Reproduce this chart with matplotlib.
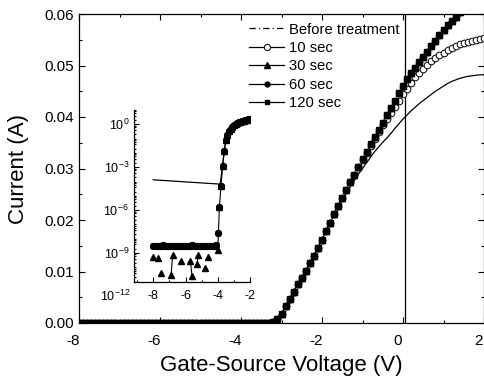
import numpy as np
import matplotlib
matplotlib.use("Agg")
import matplotlib.pyplot as plt
import matplotlib.transforms as mtransforms
from matplotlib.lines import Line2D
from matplotlib.ticker import FixedLocator, MultipleLocator, LogLocator, NullFormatter, LogFormatterSciNotation

plt.rcParams['font.family'] = ['Liberation Sans', 'DejaVu Sans']
plt.rcParams['mathtext.default'] = 'regular'
plt.rcParams['axes.unicode_minus'] = False

# main plot: gate sweep -8 .. 2 V, step 0.1 V
vg = np.round(np.arange(-8.0, 2.01, 0.1), 2)
n_off = 48  # -8.0 .. -3.3 V, no current

rise_treated = [0.0002, 0.0007, 0.0018, 0.0033, 0.0047, 0.0061, 0.0075, 0.0088, 0.0101, 0.0116,
                0.0131, 0.0146, 0.0161, 0.0178, 0.0194, 0.0211, 0.0227, 0.0243, 0.0258, 0.0273,
                0.0288, 0.0303, 0.0318, 0.0333, 0.0347, 0.0361, 0.0375, 0.0389, 0.0403, 0.0417,
                0.0431, 0.0446, 0.0460, 0.0473, 0.0485, 0.0496, 0.0506, 0.0516, 0.0526, 0.0537,
                0.0548, 0.0559, 0.0569, 0.0578, 0.0587, 0.0595, 0.0603, 0.0611, 0.0619, 0.0627,
                0.0635, 0.0642, 0.0650]
i_30s = [0.0] * n_off + rise_treated
i_60s = list(i_30s)
i_120s = list(i_30s)

# 10 sec: follows treated curve up to -1.1 V
i_10s = i_30s[:n_off + 22] + [0.0316, 0.0330, 0.0344, 0.0357, 0.0371, 0.0384, 0.0396, 0.0408, 0.0420, 0.0432,
                              0.0444, 0.0455, 0.0466, 0.0477, 0.0486, 0.0494, 0.0501, 0.0508, 0.0514, 0.0520,
                              0.0525, 0.0530, 0.0534, 0.0538, 0.0541, 0.0544, 0.0546, 0.0548, 0.0550, 0.0552,
                              0.0554]

# before treatment: follows treated curve up to -1.6 V
i_before = i_30s[:n_off + 17] + [0.0240, 0.0253, 0.0265, 0.0277, 0.0289, 0.0300, 0.0311, 0.0322, 0.0333, 0.0342,
                                 0.0351, 0.0359, 0.0368, 0.0378, 0.0387, 0.0396, 0.0404, 0.0412, 0.0419, 0.0426,
                                 0.0432, 0.0438, 0.0444, 0.0450, 0.0455, 0.0460, 0.0465, 0.0469, 0.0472, 0.0475,
                                 0.0477, 0.0479, 0.0480, 0.0481, 0.0482, 0.0482]

# inset (log scale), -8 .. -2 V, values as log10(I)
vg_in = np.round(np.arange(-8.0, -1.99, 0.1), 2)
floor_log = [-8.50, -8.48, -8.52, -8.49, -8.51, -8.50, -8.47, -8.52, -8.50, -8.49,
             -8.51, -8.50, -8.48, -8.50, -8.52, -8.49, -8.50, -8.51, -8.48, -8.50,
             -8.50, -8.52, -8.49, -8.50, -8.47, -8.51, -8.50, -8.49, -8.52, -8.50,
             -8.48, -8.50, -8.51, -8.49, -8.50, -8.48, -8.52, -8.50, -8.49, -8.45]
rise_log = [-5.8, -4.3, -2.9, -1.9, -1.1, -0.75, -0.47, -0.30, -0.16, -0.06,
            0.02, 0.08, 0.13, 0.18, 0.22, 0.26, 0.29, 0.32, 0.35, 0.37]
log_10s = floor_log + [-7.6] + rise_log
log_60s = list(log_10s)
log_120s = list(log_10s)
nan = np.nan
log_30s = [-9.30, nan, nan, -9.34, nan, -10.40, nan, nan, nan, nan,
           nan, -10.52, -9.11, nan, nan, nan, nan, -9.53, nan, nan,
           nan, nan, nan, -9.53, -10.63, nan, nan, -9.74, -9.15, nan,
           nan, nan, -10.05, nan, -9.30, nan, nan, nan, nan, nan] + [-8.75] + rise_log
vg_before_in = [-8.0, -3.85] + list(vg_in[43:])
log_before = [-3.88, -4.18] + rise_log[2:]

fig = plt.figure(figsize=(4.84, 3.83), dpi=100)
ax = fig.add_axes([79 / 484, 60 / 383, 405 / 484, 309 / 383])

ax.plot(vg, i_before, '-', color='black', lw=0.9, zorder=2)
ax.plot(vg, i_10s, 'o', mfc='white', mec='black', mew=0.7, ms=4.8, zorder=3)
ax.plot(vg, i_30s, '^', color='black', ms=4.8, zorder=4)
ax.plot(vg, i_60s, 'o', color='black', ms=4.4, zorder=5)
ax.plot(vg, i_120s, 's', color='black', ms=3.8, zorder=6)
ax.axvline(0.05, color='black', lw=0.9)

ax.set_xlim(-8, 2)
ax.set_ylim(0, 0.06)
ax.xaxis.set_major_locator(MultipleLocator(2))
ax.xaxis.set_minor_locator(MultipleLocator(1))
ax.yaxis.set_major_locator(MultipleLocator(0.01))
ax.yaxis.set_minor_locator(MultipleLocator(0.005))
ax.yaxis.set_major_formatter(plt.FormatStrFormatter('%.2f'))
ax.tick_params(which='both', direction='in', top=True, right=True, labelsize=11, width=0.8)
ax.tick_params(which='major', length=4)
ax.tick_params(which='minor', length=2.5)
ax.tick_params(axis='x', pad=8)
for s in ax.spines.values():
    s.set_linewidth(0.9)
ax.set_xlabel('Gate-Source Voltage (V)', fontsize=16, labelpad=5)
ax.set_ylabel('Current (A)', fontsize=16, labelpad=11)

# x tick labels sit a little left of their ticks in the original
shift = mtransforms.ScaledTranslation(-0.055, 0, fig.dpi_scale_trans)
for lab in ax.get_xticklabels():
    lab.set_transform(lab.get_transform() + shift)

handles = [
    Line2D([], [], color='black', lw=0.9, ls=(0, (5, 2.5, 1, 2.5))),
    Line2D([], [], color='black', lw=0.9, marker='o', mfc='white', mec='black', ms=4.5, mew=0.7),
    Line2D([], [], color='black', lw=0.9, marker='^', ms=4),
    Line2D([], [], color='black', lw=0.9, marker='o', ms=3.5),
    Line2D([], [], color='black', lw=0.9, marker='s', ms=3),
]
labels = ['Before treatment', '10 sec', '30 sec', '60 sec', '120 sec']
ax.legend(handles, labels, loc='upper left', bbox_to_anchor=(0.42, 0.972), frameon=False,
          fontsize=10.6, handlelength=2.4, handletextpad=0.3, labelspacing=0.3, borderpad=0,
          borderaxespad=0)

# inset
axi = fig.add_axes([134 / 484, (383 - 281.7) / 383, 116 / 484, 171.7 / 383])
axi.plot(vg_before_in, 10 ** np.array(log_before), '-', color='black', lw=0.9, zorder=2)
axi.plot(vg_in, 10 ** np.array(log_10s), 'o', mfc='white', mec='black', mew=0.7, ms=4.5, zorder=3)
axi.plot(vg_in, 10 ** np.array(log_30s), '^-', color='black', lw=0.8, ms=4.4, zorder=4)
axi.plot(vg_in, 10 ** np.array(log_60s), 'o', color='black', ms=4.0, zorder=5)
axi.plot(vg_in, 10 ** np.array(log_120s), 's', color='black', ms=3.4, zorder=6)
axi.set_yscale('log')
axi.set_xlim(-9.2, -2)
axi.set_ylim(1e-11, 1e1)
axi.spines['top'].set_visible(False)
axi.spines['right'].set_visible(False)
axi.xaxis.set_major_locator(FixedLocator([-8, -6, -4, -2]))
axi.xaxis.set_minor_locator(FixedLocator([-9, -7, -5, -3]))
axi.yaxis.set_major_locator(FixedLocator([1e-9, 1e-6, 1e-3, 1e0]))
axi.yaxis.set_major_formatter(LogFormatterSciNotation())
axi.yaxis.set_minor_locator(LogLocator(base=10, subs=(1.0, 2.0, 4.0, 6.0, 8.0), numticks=40))
axi.yaxis.set_minor_formatter(NullFormatter())
axi.tick_params(which='both', direction='in', labelsize=9, width=0.8)
axi.tick_params(which='major', length=3.5)
axi.tick_params(which='minor', length=1.6)
axi.tick_params(axis='x', pad=6)
for s in axi.spines.values():
    s.set_linewidth(0.9)
axi.text(-9.45, 1e-12, r'$10^{-12}$', ha='right', va='center', fontsize=9, clip_on=False)

fig.savefig('out.png', dpi=100)
